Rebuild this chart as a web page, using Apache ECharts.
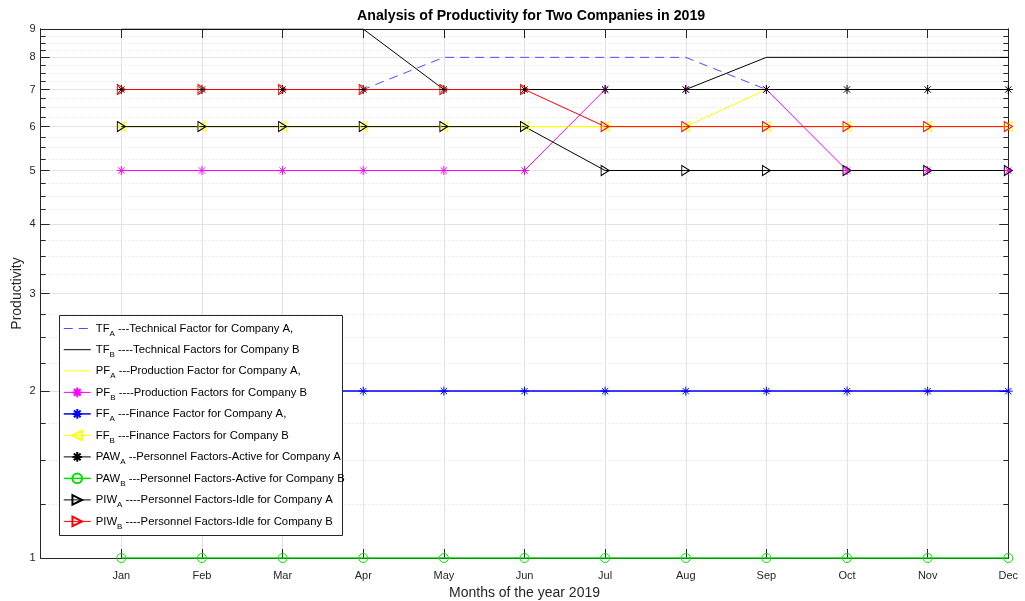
<!DOCTYPE html>
<html>
<head>
<meta charset="utf-8">
<script src="https://cdn.jsdelivr.net/npm/echarts@6/dist/echarts.min.js"></script>
<style>
html,body{margin:0;padding:0;background:#fff;}
#chart{width:1025px;height:601px;}
</style>
</head>
<body>
<div id="chart"></div>
<script>
// ---- data ----
const months = ['Jan','Feb','Mar','Apr','May','Jun','Jul','Aug','Sep','Oct','Nov','Dec'];
const monthPos = [1,2,3,4,5,6,7,8,9,10,11,12];
const yTickValues = [1,2,3,4,5,6,7,8,9];
const yMinorValues = [1.25,1.5,1.75,2.25,2.5,2.75,3.25,3.5,3.75,4.25,4.5,4.75,5.25,5.5,5.75,6.25,6.5,6.75,7.25,7.5,7.75,8.25,8.5,8.75];

const TF_A  = [7,7,7,7,8,8,8,8,7,7,7,7];
const TF_B  = [9,9,9,9,7,7,7,7,8,8,8,8];
const PF_A  = [6,6,6,6,6,6,6,6,7,7,7,7];
const PF_B  = [5,5,5,5,5,5,7,7,7,5,5,5];
const FF_A  = [2,2,2,2,2,2,2,2,2,2,2,2];
const FF_B  = [6,6,6,6,6,6,6,6,6,6,6,6];
const PAW_A = [7,7,7,7,7,7,7,7,7,7,7,7];
const PAW_B = [1,1,1,1,1,1,1,1,1,1,1,1];
const PIW_A = [6,6,6,6,6,6,5,5,5,5,5,5];
const PIW_B = [7,7,7,7,7,7,6,6,6,6,6,6];

const legendNames = {
  TF_A:  ['TF','A',' ---Technical Factor for Company A,'],
  TF_B:  ['TF','B',' ----Technical Factors for Company B'],
  PF_A:  ['PF','A',' ---Production Factor for Company A,'],
  PF_B:  ['PF','B',' ----Production Factors for Company B'],
  FF_A:  ['FF','A',' ---Finance Factor for Company A,'],
  FF_B:  ['FF','B',' ---Finance Factors for Company B'],
  PAW_A: ['PAW','A',' --Personnel Factors-Active for Company A'],
  PAW_B: ['PAW','B',' ---Personnel Factors-Active for Company B'],
  PIW_A: ['PIW','A',' ----Personnel Factors-Idle for Company A'],
  PIW_B: ['PIW','B',' ----Personnel Factors-Idle for Company B']
};

// ---- helpers ----
const pairs = arr => arr.map((v,i) => [monthPos[i], v]);
const FONT = '"Liberation Sans", Arial, Helvetica, sans-serif';
const AX = '#262626';
const ASTER = 'path://M5 0L5 10M0 5L10 5M1.5 1.5L8.5 8.5M8.5 1.5L1.5 8.5';
const TRI_R = 'path://M0 0L10 5L0 10Z';
const TRI_L = 'path://M10 0L0 5L10 10Z';
const CLEAR = 'rgba(0,0,0,0)';
const lineWidths = {};

function line(name, data, color, opts) {
  opts = opts || {};
  const hasSym = !!opts.symbol;
  lineWidths[name] = opts.width || 1;
  return {
    name: name,
    type: 'line',
    data: pairs(data),
    xAxisIndex: 0,
    yAxisIndex: 0,
    z: 2,
    symbol: hasSym ? opts.symbol : 'circle',
    symbolSize: hasSym ? (opts.symbolSize || 9) : 0,
    showSymbol: hasSym,
    lineStyle: { color: color, width: opts.width || 1, type: opts.dash || 'solid' },
    itemStyle: hasSym ? { color: CLEAR, borderColor: color, borderWidth: 1 }
                      : { color: CLEAR, borderColor: CLEAR, borderWidth: 0 },
    emphasis: { disabled: true },
    animation: false
  };
}

const chart = echarts.init(document.getElementById('chart'), null, { renderer: 'canvas' });

function xAx(pos, show) {
  return {
    type: 'value', position: pos, min: 0, max: 12, interval: 1,
    axisLine: { show: true, onZero: false, lineStyle: { color: AX, width: 1 } },
    axisTick: { show: true, inside: true, length: 9, lineStyle: { color: AX } },
    axisLabel: show ? {
      show: true, color: AX, fontSize: 11, fontFamily: FONT, margin: 12,
      formatter: v => (v >= 1 && v <= 12 ? months[v-1] : '')
    } : { show: false },
    splitLine: show ? { show: true, lineStyle: { color: '#e3e3e3', width: 1 } } : { show: false },
    name: show ? 'Months of the year 2019' : '',
    nameLocation: 'middle', nameGap: 28, nameMoveOverlap: false,
    nameTextStyle: { fontSize: 14, color: AX, fontFamily: FONT }
  };
}

function yAx(pos, minor, labels) {
  return {
    type: 'log', logBase: 10, position: pos, min: 1, max: 9,
    axisLine: { show: true, onZero: false, lineStyle: { color: AX, width: 1 } },
    axisTick: { show: true, inside: true, length: minor ? 5 : 9, customValues: minor ? yMinorValues : yTickValues, lineStyle: { color: AX } },
    axisLabel: labels ? { show: true, color: AX, fontSize: 11, fontFamily: FONT, margin: 5, customValues: yTickValues } : { show: false },
    splitLine: (pos === 'left') ? { show: true, lineStyle: minor ? { color: '#d8d8d8', width: 1, type: [1,3] } : { color: '#e3e3e3', width: 1 } } : { show: false },
    name: labels ? 'Productivity' : '',
    nameLocation: 'middle', nameGap: 17, nameMoveOverlap: false,
    nameTextStyle: { fontSize: 14, color: AX, fontFamily: FONT }
  };
}

const option = {
  animation: false,
  backgroundColor: '#fff',
  textStyle: { fontFamily: FONT },
  title: {
    text: 'Analysis of Productivity for Two Companies in 2019',
    left: 357, top: 9, padding: 0,
    textStyle: { fontSize: 14.2, fontWeight: 'bold', color: '#000', fontFamily: FONT }
  },
  grid: { left: 40.7, right: 16.7, top: 29, bottom: 43, containLabel: false, outerBoundsMode: 'none' },
  xAxis: [xAx('bottom', true), xAx('top', false)],
  yAxis: [yAx('left', false, true), yAx('left', true, false), yAx('right', false, false), yAx('right', true, false)],
  graphic: {
    elements: [{
      type: 'rect', z: 50, zlevel: 0, silent: true,
      shape: { x: 59.5, y: 315.5, width: 283, height: 220 },
      style: { fill: '#fff', stroke: AX, lineWidth: 1 }
    }]
  },
  legend: {
    orient: 'vertical', left: 63, top: 323, padding: 0,
    itemWidth: 27, itemHeight: 12, itemGap: 6.7,
    selectedMode: false, z: 60,
    lineStyle: { width: 1 },
    formatter: n => {
      const p = legendNames[n];
      return '{b|' + p[0] + '}{s|' + p[1] + '}{b|' + p[2] + '}';
    },
    textStyle: {
      color: '#000', fontFamily: FONT, fontSize: 11.3,
      rich: {
        b: { fontSize: 11.3, lineHeight: 18, verticalAlign: 'middle', color: '#000', fontFamily: FONT },
        s: { fontSize: 8, lineHeight: 8, verticalAlign: 'bottom', color: '#000', fontFamily: FONT }
      }
    },
    data: []
  },
  series: [
    line('TF_A', TF_A, '#4d4dff', { dash: [9,6] }),
    line('TF_B', TF_B, '#000000'),
    line('PF_A', PF_A, '#ffff00'),
    line('PF_B', PF_B, '#ff00ff', { symbol: ASTER, symbolSize: 9 }),
    line('FF_A', FF_A, '#0000ff', { symbol: ASTER, symbolSize: 9, width: 1.5 }),
    line('FF_B', FF_B, '#ffff00', { symbol: TRI_L, symbolSize: [8,10] }),
    line('PAW_A', PAW_A, '#000000', { symbol: ASTER, symbolSize: 9 }),
    line('PAW_B', PAW_B, '#00e000', { symbol: 'circle', symbolSize: 9, width: 1.5 }),
    line('PIW_A', PIW_A, '#000000', { symbol: TRI_R, symbolSize: [8,10] }),
    line('PIW_B', PIW_B, '#ff0000', { symbol: TRI_R, symbolSize: [8,10] })
  ]
};
option.legend.data = Object.keys(legendNames).map(n => ({ name: n, lineStyle: { width: lineWidths[n] || 1 } }));
chart.setOption(option);
</script>
</body>
</html>
